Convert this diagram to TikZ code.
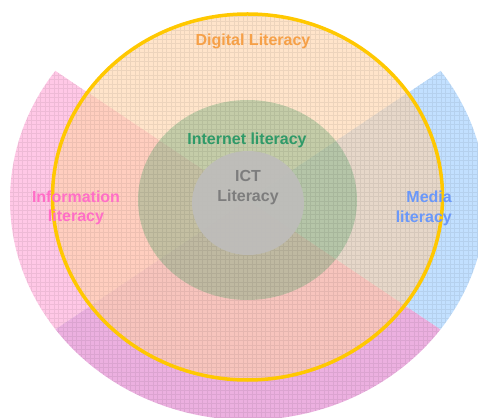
\documentclass[tikz,border=0pt]{standalone}
\usepackage{fontspec}
\setmainfont{Liberation Sans}
\definecolor{pinkS}{HTML}{FFC8E6}
\definecolor{blueS}{HTML}{C2E0FF}
\definecolor{purpS}{HTML}{ECB0E0}
\definecolor{peach}{HTML}{FFD2A6}
\definecolor{greenC}{HTML}{6CAA78}
\definecolor{grayC}{HTML}{BEBDBB}
\definecolor{yellowC}{HTML}{FFC800}
\definecolor{orangeT}{HTML}{F6A047}
\definecolor{greenT}{HTML}{2F9A68}
\definecolor{grayT}{HTML}{7D7D7D}
\definecolor{pinkT}{HTML}{FF6EC7}
\definecolor{blueT}{HTML}{6A98FA}
\begin{document}
\begin{tikzpicture}[x=1pt,y=1pt,
  lbl/.style={font=\bfseries\fontsize{16}{19.5}\selectfont, inner sep=0pt},
  gridlines/.style={black, opacity=0.065, line width=0.8pt},
]
\useasboundingbox (0,0) rectangle (478,417);
\coordinate (O) at (248,217);
\coordinate (Yc) at (247.5,220);
\coordinate (Gc) at (247.5,217);
\coordinate (Ic) at (248,214);
% outer sectors
\fill[pinkS] (O) -- ++(144:238 and 220) arc[start angle=144, end angle=216, x radius=238, y radius=220] -- cycle;
\fill[purpS] (O) -- ++(216:238 and 220) arc[start angle=216, end angle=324, x radius=238, y radius=220] -- cycle;
\fill[blueS] (O) -- ++(-36:238 and 220) arc[start angle=-36, end angle=36, x radius=238, y radius=220] -- cycle;
% digital literacy disc
\fill[peach, fill opacity=0.6] (Yc) ellipse[x radius=195, y radius=183];
% internet literacy disc
\fill[greenC, fill opacity=0.4] (Gc) ellipse[x radius=109.5, y radius=100];
% grid texture
\begin{scope}
  \clip (O) ellipse[x radius=238, y radius=220];
  \draw[gridlines, step=4.5pt] (0,0) grid (478,417);
\end{scope}
% white outside the yellow circle in the top sector
\begin{scope}
  \clip (O) -- (633,475.6) -- (-137,475.6) -- cycle;
  \fill[white, even odd rule] (-10,-10) rectangle (500,500) (Yc) ellipse[x radius=195, y radius=183];
\end{scope}
% ICT disc
\fill[grayC, fill opacity=0.92] (Ic) ellipse[x radius=56, y radius=52];
% yellow ring
\draw[yellowC, line width=3.5pt] (Yc) ellipse[x radius=195, y radius=183];
% labels
\node[lbl, text=orangeT, anchor=base] (dig) at (253,371) {Digital Literacy};
\node[lbl, text=greenT, anchor=base] (net) at (247,272) {Internet literacy};
\node[lbl, text=grayT, align=center] (ict) at (248,229.5) {ICT\\Literacy};
\node[lbl, text=pinkT, align=center] (inf) at (76,209) {Information\\literacy};
\node[lbl, text=blueT, align=right, anchor=east] (med) at (452,208.5) {Media\\literacy};
\end{tikzpicture}
\end{document}
